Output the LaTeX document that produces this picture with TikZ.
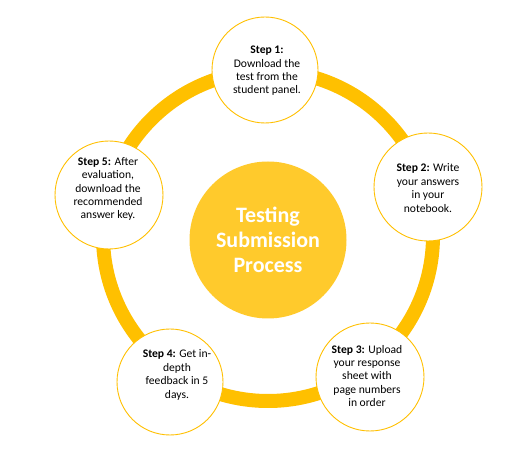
\documentclass[tikz,border=0pt]{standalone}
\usepackage{fontspec}
\setmainfont{Carlito}
\definecolor{gold}{RGB}{255,192,0}
\definecolor{centerfill}{RGB}{255,202,44}
\begin{document}
\begin{tikzpicture}[x=1pt,y=-1pt,
  stepcircle/.style={circle,draw=gold,line width=0.9pt,fill=white,inner sep=0pt},
  steptext/.style={align=center,font=\fontsize{11.6}{13.4}\selectfont,text=black,inner sep=0pt},
  ring/.style={draw=gold,line width=14pt}]
\fill[white] (0,0) rectangle (523,473);
\useasboundingbox (0,0) rectangle (523,473);
\coordinate (ringc) at (268,236);
\draw[ring] (ringc) circle[radius=165pt];
\node[circle,fill=centerfill,minimum size=157pt,inner sep=0pt,
  font=\fontsize{22}{25}\selectfont\bfseries,text=white,align=center] (center) at (268,240)
  {Testing\\Submission\\Process};
\node[stepcircle,minimum size=106pt] (s1) at (265,70) {};
\node[stepcircle,minimum size=108pt] (s2) at (428,187) {};
\node[stepcircle,minimum size=108pt] (s3) at (370,377) {};
\node[stepcircle,minimum size=106pt] (s4) at (170,382) {};
\node[stepcircle,minimum size=108pt] (s5) at (109,195) {};
\node[steptext] (t1) at (267,71) {\textbf{Step 1:}\\Download the\\test from the\\student panel.};
\node[steptext] (t2) at (428,188) {\textbf{Step 2:} Write\\your answers\\in your\\notebook.};
\node[steptext] (t3) at (367,376) {\textbf{Step 3:} Upload\\your response\\sheet with\\page numbers\\in order};
\node[steptext] (t4) at (177,375) {\textbf{Step 4:} Get in-\\depth\\feedback in 5\\days.};
\node[steptext] (t5) at (108,189) {\textbf{Step 5:} After\\evaluation,\\download the\\recommended\\answer key.};
\end{tikzpicture}
\end{document}
